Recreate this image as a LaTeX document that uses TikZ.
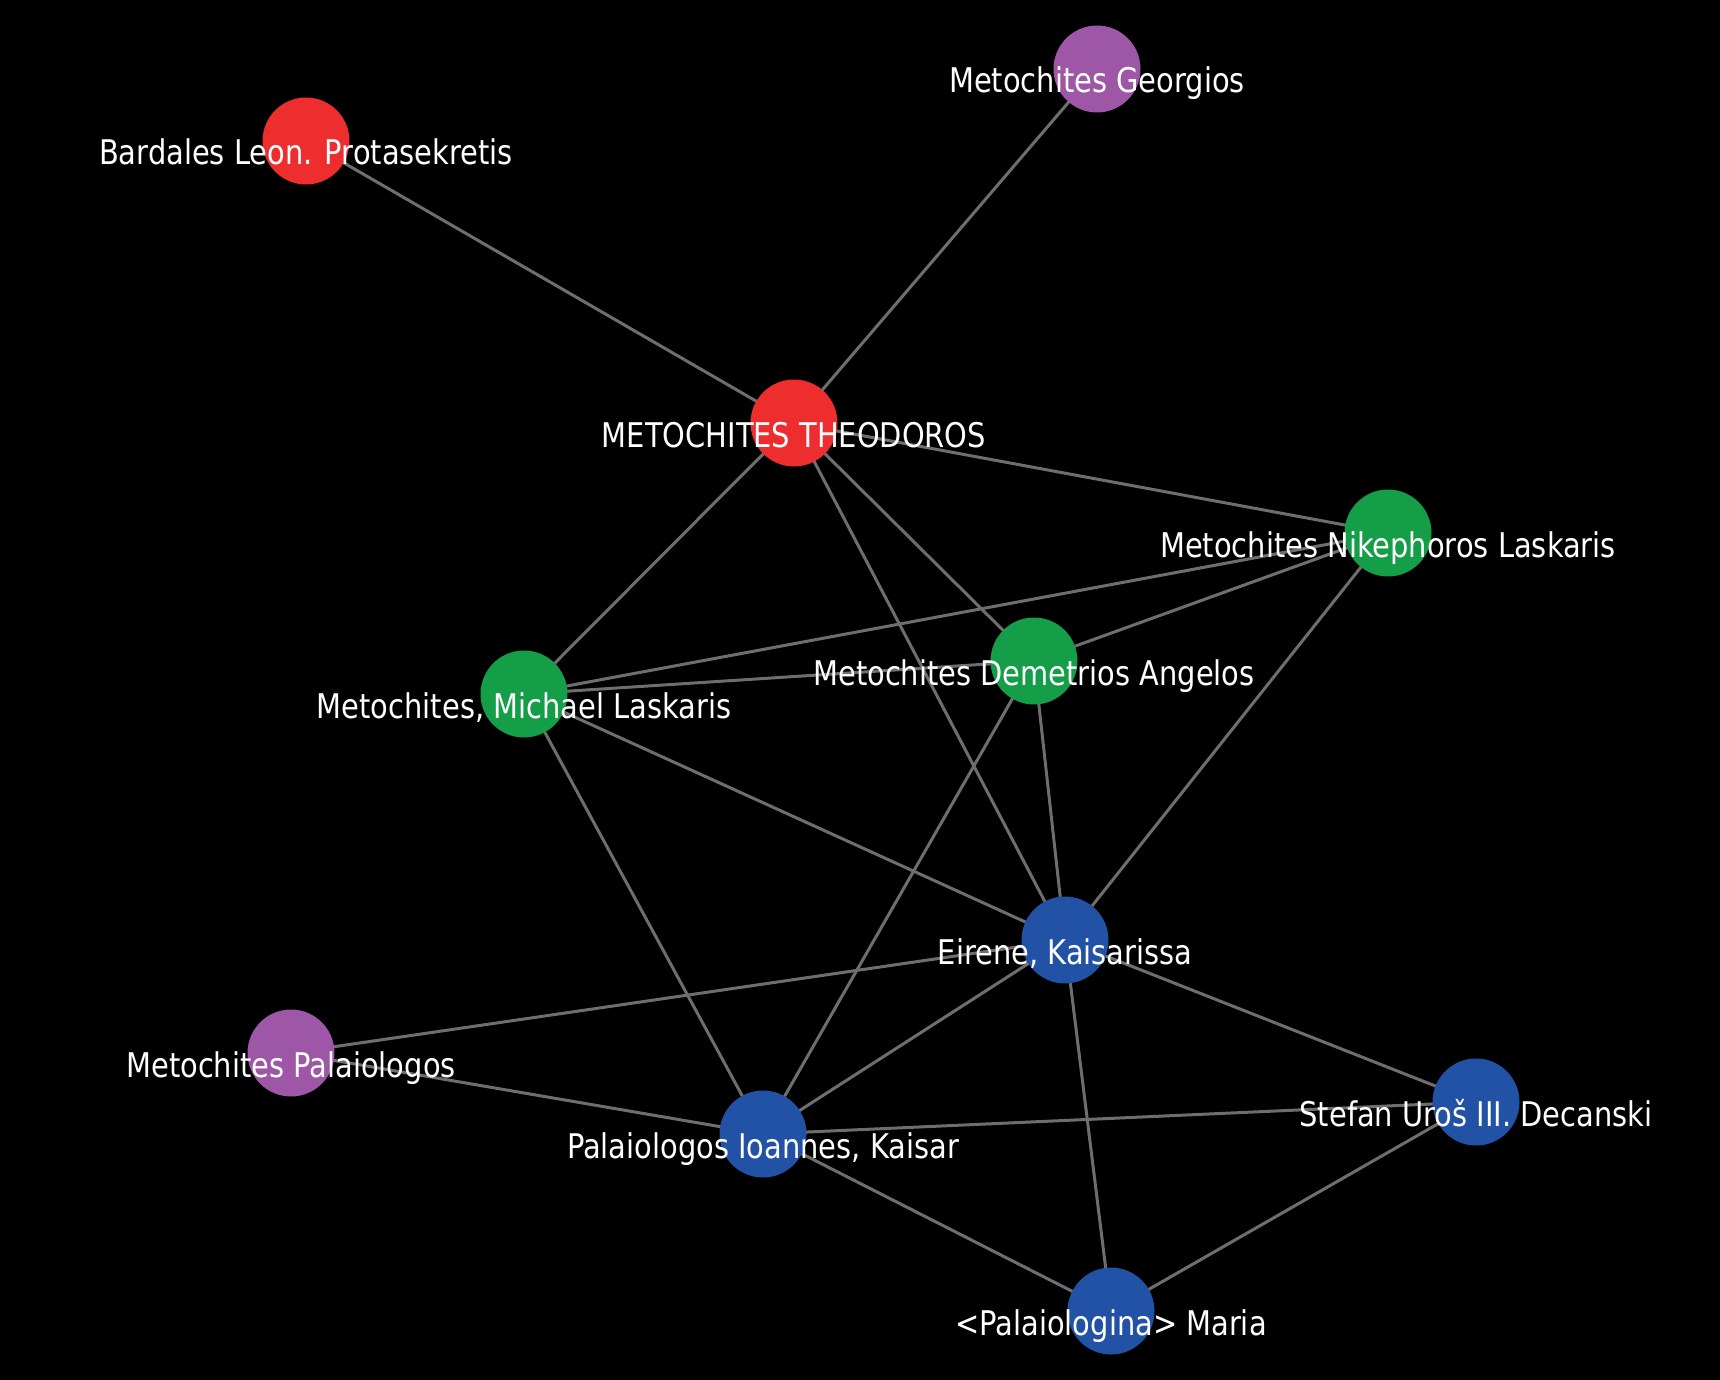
\documentclass[tikz,border=0pt]{standalone}
\usepackage{fontspec}
\setmainfont[FakeStretch=0.85]{DejaVu Sans}
\usetikzlibrary{backgrounds}
\definecolor{nred}{HTML}{EE2E2E}
\definecolor{npurple}{HTML}{9E57A6}
\definecolor{ngreen}{HTML}{149E47}
\definecolor{nblue}{HTML}{2152A6}
\definecolor{edgegray}{HTML}{6E6E6E}
\tikzset{
  vert/.style={circle, minimum size=87pt, inner sep=0pt, draw=none},
  lbl/.style={text=white, font=\fontsize{34}{36}\selectfont, inner sep=0pt, anchor=base},
  link/.style={draw=edgegray, line width=3pt}
}
\begin{document}
\begin{tikzpicture}[x=1pt,y=1pt]
\useasboundingbox (0,0) rectangle (1720,-1380);
% nodes
\node[vert, fill=npurple] (geo) at (1097,-69) {};
\node[vert, fill=nred] (bar) at (306,-141) {};
\node[vert, fill=nred] (the) at (794,-423) {};
\node[vert, fill=ngreen] (nik) at (1388,-533) {};
\node[vert, fill=ngreen] (dem) at (1034,-661) {};
\node[vert, fill=ngreen] (mic) at (524,-694) {};
\node[vert, fill=nblue] (eir) at (1065,-940) {};
\node[vert, fill=npurple] (pal) at (291,-1053) {};
\node[vert, fill=nblue] (ioa) at (763,-1134) {};
\node[vert, fill=nblue] (ste) at (1476,-1102) {};
\node[vert, fill=nblue] (mar) at (1111,-1311) {};
% edges behind nodes
\begin{scope}[on background layer]
\fill[black] (0,0) rectangle (1720,-1380);
\draw[link] (bar.center) -- (the.center);
\draw[link] (geo.center) -- (the.center);
\draw[link] (the.center) -- (nik.center);
\draw[link] (the.center) -- (mic.center);
\draw[link] (the.center) -- (dem.center);
\draw[link] (the.center) -- (eir.center);
\draw[link] (nik.center) -- (mic.center);
\draw[link] (nik.center) -- (dem.center);
\draw[link] (nik.center) -- (eir.center);
\draw[link] (mic.center) -- (dem.center);
\draw[link] (mic.center) -- (eir.center);
\draw[link] (mic.center) -- (ioa.center);
\draw[link] (dem.center) -- (ioa.center);
\draw[link] (dem.center) -- (eir.center);
\draw[link] (eir.center) -- (pal.center);
\draw[link] (eir.center) -- (ioa.center);
\draw[link] (eir.center) -- (ste.center);
\draw[link] (eir.center) -- (mar.center);
\draw[link] (pal.center) -- (ioa.center);
\draw[link] (ioa.center) -- (ste.center);
\draw[link] (ioa.center) -- (mar.center);
\draw[link] (ste.center) -- (mar.center);
\end{scope}
% labels
\node[lbl] (lgeo) at ([yshift=-24pt]geo.center) {Metochites Georgios};
\node[lbl] (lbar) at ([yshift=-24pt]bar.center) {Bardales Leon. Protasekretis};
\node[lbl] (lthe) at ([yshift=-24pt]the.center) {METOCHITES THEODOROS};
\node[lbl] (lnik) at ([yshift=-24pt]nik.center) {Metochites Nikephoros Laskaris};
\node[lbl] (ldem) at ([yshift=-24pt]dem.center) {Metochites Demetrios Angelos};
\node[lbl] (lmic) at ([yshift=-24pt]mic.center) {Metochites, Michael Laskaris};
\node[lbl] (leir) at ([yshift=-24pt]eir.center) {Eirene, Kaisarissa};
\node[lbl] (lpal) at ([yshift=-24pt]pal.center) {Metochites Palaiologos};
\node[lbl] (lioa) at ([yshift=-24pt]ioa.center) {Palaiologos Ioannes, Kaisar};
\node[lbl] (lste) at ([yshift=-24pt]ste.center) {Stefan Uroš III. Decanski};
\node[lbl] (lmar) at ([yshift=-24pt]mar.center) {<Palaiologina> Maria};
\end{tikzpicture}
\end{document}
